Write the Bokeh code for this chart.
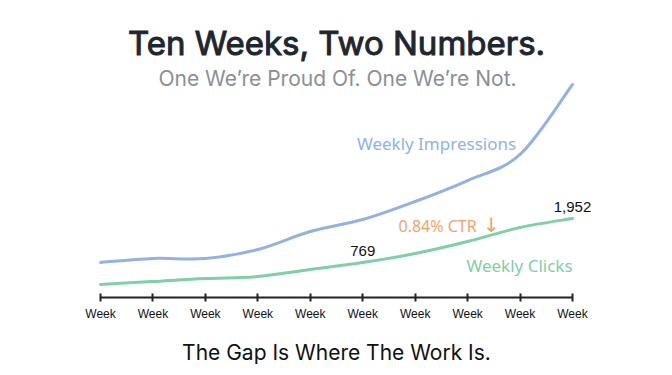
from bokeh.plotting import figure
from bokeh.models import Range1d, FixedTicker, Label, ColumnDataSource
from bokeh.core.properties import value
from bokeh.embed import file_html
from bokeh.resources import INLINE

# Ten weeks of data
weeks = [1, 2, 3, 4, 5, 6, 7, 8, 9, 10]
week_labels = ["Week"] * 10
impressions = [32200, 36700, 36700, 46800, 67000, 80500, 100800, 124400, 153700, 232400]
clicks = [178, 258, 339, 393, 581, 769, 1011, 1334, 1711, 1952]
called_out_weeks = [6, 10]

BLUE = "#93b1e6"
GREEN = "#7fcfa8"
ORANGE = "#f0a26e"
INK = "#1f2630"


def smooth_segments(xs, ys, tension=6.0):
    """Catmull-Rom style cubic Bezier segments through every data point."""
    n = len(xs)
    seg = dict(x0=[], y0=[], x1=[], y1=[], cx0=[], cy0=[], cx1=[], cy1=[])
    for i in range(n - 1):
        xa, ya = xs[i], ys[i]
        xb, yb = xs[i + 1], ys[i + 1]
        xp, yp = (xs[i - 1], ys[i - 1]) if i > 0 else (xa, ya)
        xn, yn = (xs[i + 2], ys[i + 2]) if i + 2 < n else (xb, yb)
        seg["x0"].append(xa); seg["y0"].append(ya)
        seg["x1"].append(xb); seg["y1"].append(yb)
        seg["cx0"].append(xa + (xb - xp) / tension)
        seg["cy0"].append(ya + (yb - yp) / tension)
        seg["cx1"].append(xb - (xn - xa) / tension)
        seg["cy1"].append(yb - (yn - ya) / tension)
    return ColumnDataSource(seg)


p = figure(
    width=672, height=375,
    x_range=Range1d(-0.907, 11.907),
    y_range=Range1d(-172, 7817),
    y_axis_location=None,
    toolbar_location=None,
    output_backend="svg",
    min_border_left=0, min_border_right=0, min_border_top=0, min_border_bottom=78,
    outline_line_color=None,
    background_fill_color="white",
    border_fill_color="white",
)
p.extra_y_ranges = {"imp": Range1d(-7200, 326925)}
p.grid.visible = False

# Smoothed series lines
p.bezier(x0="x0", y0="y0", x1="x1", y1="y1", cx0="cx0", cy0="cy0",
         cx1="cx1", cy1="cy1", source=smooth_segments(weeks, impressions),
         y_range_name="imp", line_color=BLUE, line_width=3, line_cap="round")
p.bezier(x0="x0", y0="y0", x1="x1", y1="y1", cx0="cx0", cy0="cy0",
         cx1="cx1", cy1="cy1", source=smooth_segments(weeks, clicks),
         line_color=GREEN, line_width=3, line_cap="round")

# Value call-outs on the clicks line
src = ColumnDataSource(dict(
    x=[weeks[i - 1] for i in called_out_weeks],
    y=[clicks[i - 1] for i in called_out_weeks],
    t=[f"{clicks[i - 1]:,}" for i in called_out_weeks],
))
p.text(x="x", y="y", text="t", source=src, y_offset=-12,
       text_align="center", text_baseline="middle",
       text_font_size="15px", text_color="#111111",
       text_font=value("Liberation Sans"))

# X axis
ax = p.xaxis[0]
ax.bounds = (1, 10)
ax.ticker = FixedTicker(ticks=weeks)
ax.major_label_overrides = {w: lab for w, lab in zip(weeks, week_labels)}
ax.minor_tick_line_color = None
ax.major_tick_in = 4
ax.major_tick_out = 4
ax.axis_line_width = 2
ax.axis_line_color = "#222222"
ax.major_tick_line_color = "#222222"
ax.major_tick_line_width = 2
ax.major_label_text_font = "Liberation Sans"
ax.major_label_text_font_size = "12px"
ax.major_label_text_color = "#111111"
ax.major_label_standoff = 5
ax.axis_label = "The Gap Is Where The Work Is."
ax.axis_label_text_font = "Inter"
ax.axis_label_text_font_style = "normal"
ax.axis_label_text_font_size = "21px"
ax.axis_label_text_color = "#111111"
ax.axis_label_standoff = 16

FRAME_H = 297


def note(text, cx, cy, size, color, font="Noto Sans", style="normal",
         align="center", outline=None):
    lab = Label(
        x=cx, y=FRAME_H - cy, x_units="screen", y_units="screen",
        text=text, text_align=align, text_baseline="middle",
        text_font=font, text_font_size=size, text_color=color,
        text_font_style=style,
    )
    if outline:
        lab.text_outline_color = outline
    p.add_layout(lab)


note("Ten Weeks, Two Numbers.", 336, 42, "33px", INK, font="Inter", outline=INK)
note("One We\u2019re Proud Of. One We\u2019re Not.", 337, 78, "21px", "#8a8f95", font="Inter")
note("Weekly Impressions", 436, 143, "17px", BLUE)
note("Weekly Clicks", 519, 265, "17px", GREEN)
note("0.84% CTR", 398, 225, "16px", ORANGE, align="left")
note("\u2193", 491, 224, "20px", ORANGE, font="DejaVu Sans")

open("out.html", "w").write(file_html(p, INLINE))
